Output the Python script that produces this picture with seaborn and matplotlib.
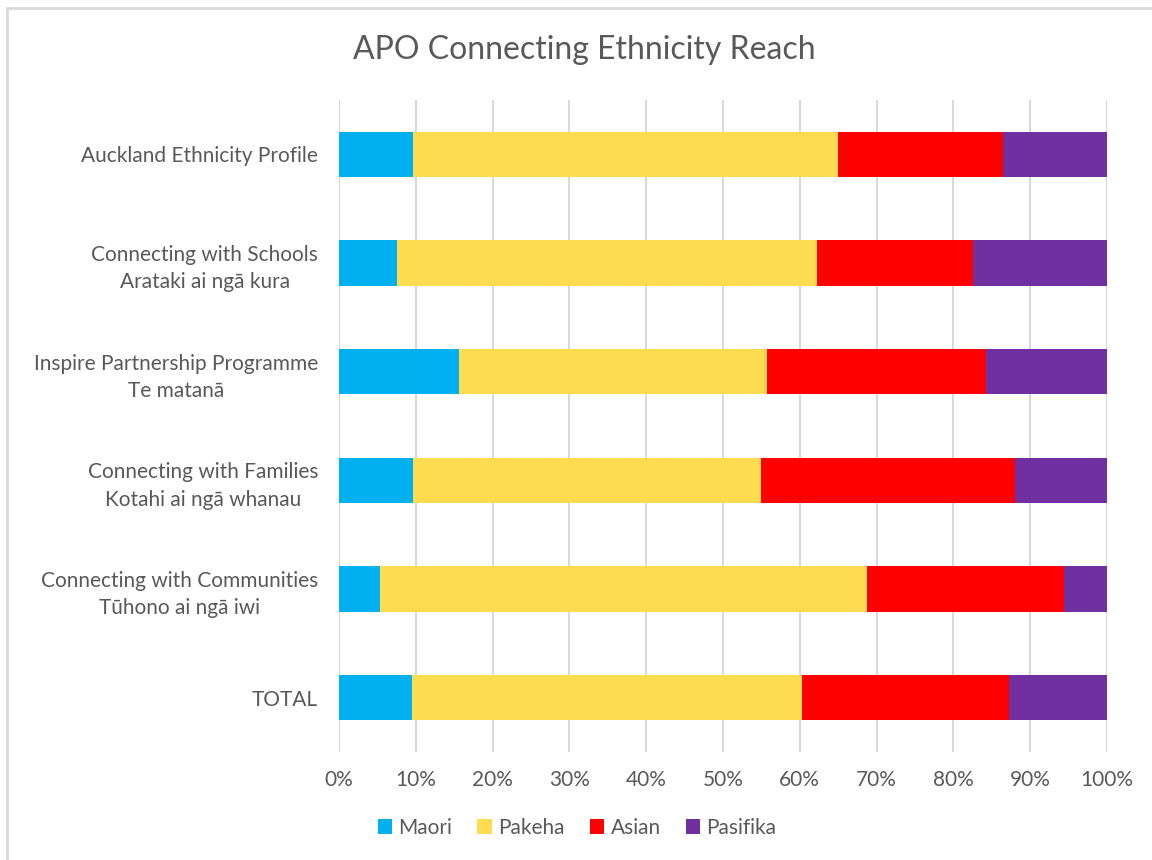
import matplotlib
matplotlib.use("Agg")
import matplotlib.pyplot as plt
import seaborn as sns
import pandas as pd
import numpy as np
from matplotlib.patches import Rectangle, Patch
from matplotlib.ticker import FuncFormatter

categories = [
    "Auckland Ethnicity Profile",
    "Connecting with Schools\nArataki ai ngā kura",
    "Inspire Partnership Programme\nTe matanā",
    "Connecting with Families\nKotahi ai ngā whanau",
    "Connecting with Communities\nTūhono ai ngā iwi",
    "TOTAL",
]
maori    = [9.6, 7.6, 15.6, 9.7, 5.3, 9.5]
pakeha   = [55.4, 54.6, 40.1, 45.2, 63.4, 50.8]
asian    = [21.5, 20.3, 28.5, 33.1, 25.7, 27.0]
pasifika = [13.5, 17.5, 15.8, 12.0, 5.6, 12.7]

series_names = ["Maori", "Pakeha", "Asian", "Pasifika"]
colors = ["#00B0F0", "#FDDC50", "#FF0000", "#7030A0"]

sns.set_theme(style="white")
plt.rcParams["font.family"] = ["Lato", "DejaVu Sans"]

df = pd.DataFrame({"category": categories, "Maori": maori, "Pakeha": pakeha,
                   "Asian": asian, "Pasifika": pasifika})
cum = df[series_names].cumsum(axis=1)

fig = plt.figure(figsize=(11.52, 8.6), dpi=100)
ax = fig.add_axes([339/1152, 1-752/860, (1107-339)/1152, (752-100)/860])

# draw cumulative layers from back (total) to front
for name, col in reversed(list(zip(series_names, colors))):
    sns.barplot(x=cum[name] / 100.0, y=df["category"], orient="h", color=col,
                width=0.42, saturation=1, ax=ax, linewidth=0, errorbar=None)

ax.set_xlim(0, 1)
ax.set_ylim(5.5, -0.5)
ax.set_xticks(np.arange(0, 1.01, 0.1))
ax.xaxis.set_major_formatter(FuncFormatter(lambda v, p: f"{v*100:.0f}%"))
ax.grid(axis="x", color="#D9D9D9", linewidth=1.5)
ax.grid(axis="y", visible=False)
ax.set_axisbelow(True)
for s in ax.spines.values():
    s.set_visible(False)
ax.set_xlabel("")
ax.set_ylabel("")
ax.tick_params(axis="both", length=0, colors="#595959", labelsize=15)
ax.tick_params(axis="x", pad=13)
ax.tick_params(axis="y", pad=15)
for lbl in ax.get_yticklabels():
    lbl.set_multialignment("center")
    lbl.set_linespacing(1.45)
    lbl.set_color("#595959")
    lbl.set_fontsize(15)

fig.text(584/1152, 1-50/860, "APO Connecting Ethnicity Reach", ha="center", va="center",
         fontsize=23, color="#595959")

handles = [Patch(facecolor=c, edgecolor="none") for c in colors]
leg = fig.legend(handles, series_names, loc="center", bbox_to_anchor=(577/1152, 1-828/860),
                 ncol=4, frameon=False, fontsize=15, handlelength=0.7, handleheight=0.7,
                 handletextpad=0.3, columnspacing=1.2)
for t in leg.get_texts():
    t.set_color("#595959")

fig.patches.append(Rectangle((7/1152, -0.01), 1.05, 1-8/860 + 0.01, transform=fig.transFigure,
                             fill=False, edgecolor="#D9D9D9", linewidth=2))

fig.savefig("out.png", dpi=100, facecolor="white")
